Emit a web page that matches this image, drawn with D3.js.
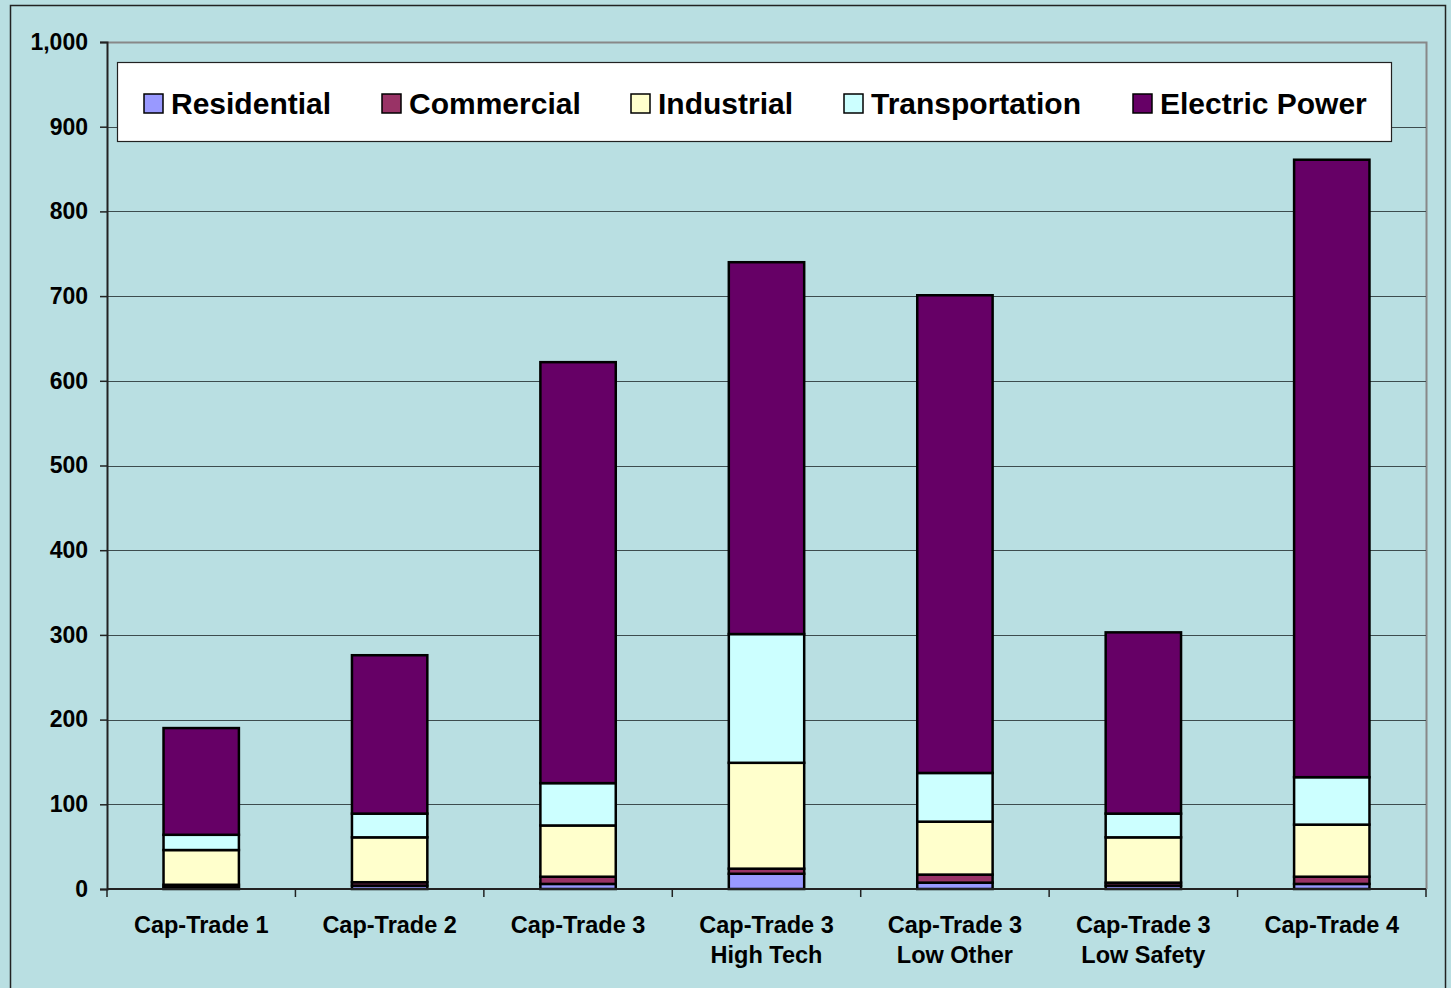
<!DOCTYPE html>
<html><head><meta charset="utf-8">
<script src="https://cdn.jsdelivr.net/npm/d3@7/dist/d3.min.js"></script>
<style>
html,body{margin:0;padding:0;background:#B9DFE2;}
svg{display:block;font-family:"Liberation Sans",Arial,sans-serif;font-weight:bold;}
</style></head>
<body><svg id="c" width="1451" height="988"></svg>
<script>
const categories = [["Cap-Trade 1"],["Cap-Trade 2"],["Cap-Trade 3"],["Cap-Trade 3","High Tech"],["Cap-Trade 3","Low Other"],["Cap-Trade 3","Low Safety"],["Cap-Trade 4"]];
const seriesNames = ["Residential","Commercial","Industrial","Transportation","Electric Power"];
const seriesColors = ["#9999FF","#993366","#FFFFCC","#CCFFFF","#660066"];
const residential    = [2, 4, 6, 18, 7.5, 4, 6];
const commercial     = [3, 4, 8.5, 6, 9.5, 3.5, 8.5];
const industrial     = [41, 53, 60.5, 125, 62.5, 53.5, 61.5];
const transportation = [18, 28, 50, 152, 57.5, 28, 56];
const electricPower  = [126, 187, 497, 439, 564, 214, 729];
const yTicks = [0,100,200,300,400,500,600,700,800,900,1000];

const seriesData = [residential, commercial, industrial, transportation, electricPower];
const svg = d3.select("#c");
const L = 107, R = 1426, T = 42, B = 889;

svg.append("rect").attr("x",10.5).attr("y",5.5).attr("width",1435).attr("height",995)
  .attr("fill","#B9DFE2").attr("stroke","#222").attr("stroke-width",1.5);

const x = d3.scaleBand().domain(d3.range(categories.length)).range([L,R]).paddingInner(0.6).paddingOuter(0.3);
const xb = d3.scaleBand().domain(d3.range(categories.length)).range([L,R]);
const y = d3.scaleLinear().domain([0,1000]).range([B,T]);

svg.append("path").attr("d",`M${L},${T+0.5}H${R+0.5}V${B}`).attr("fill","none").attr("stroke","#888").attr("stroke-width",2);

svg.append("g").selectAll("line").data(yTicks.filter(d=>d>0 && d<1000)).join("line")
  .attr("x1",L).attr("x2",R).attr("y1",d=>Math.round(y(d))+0.5).attr("y2",d=>Math.round(y(d))+0.5)
  .attr("stroke","#3d4c4e").attr("stroke-width",1);

const rows = categories.map((c,i)=>{const o={i}; seriesNames.forEach((s,k)=>o[s]=seriesData[k][i]); return o;});
const stack = d3.stack().keys(seriesNames)(rows);
const g = svg.append("g");
stack.forEach((layer,k)=>{
  g.append("g").selectAll("rect").data(layer).join("rect")
    .attr("x",d=>x(d.data.i)).attr("width",x.bandwidth())
    .attr("y",d=>y(d[1])).attr("height",d=>y(d[0])-y(d[1]))
    .attr("fill",seriesColors[k]).attr("stroke","#000").attr("stroke-width",2.5);
});

const ya = svg.append("g").attr("transform",`translate(${L},0)`)
  .call(d3.axisLeft(y).tickValues(yTicks).tickFormat(d3.format(",")).tickSize(7).tickPadding(12));
ya.select(".domain").attr("stroke","#222").attr("stroke-width",2);
ya.selectAll(".tick line").attr("stroke","#222").attr("stroke-width",1.5);
ya.selectAll("text").attr("font-size",23).attr("font-weight","bold").attr("fill","#000")
  .attr("font-family","Liberation Sans, Arial, sans-serif");

const xa = svg.append("g").attr("transform",`translate(0,${B})`);
xa.append("line").attr("x1",L).attr("x2",R).attr("y1",0).attr("y2",0).attr("stroke","#222").attr("stroke-width",2);
xa.selectAll("line.t").data(d3.range(categories.length+1)).join("line").attr("class","t")
  .attr("x1",d=>d<categories.length?xb(d):R).attr("x2",d=>d<categories.length?xb(d):R)
  .attr("y1",0).attr("y2",8).attr("stroke","#222").attr("stroke-width",1.5);
categories.forEach((c,i)=>{
  const t = xa.append("text").attr("x",xb(i)+xb.bandwidth()/2).attr("y",44)
    .attr("text-anchor","middle").attr("font-size",23.5).attr("fill","#000");
  c.forEach((ln,j)=>t.append("tspan").attr("x",xb(i)+xb.bandwidth()/2).attr("dy",j?30:0).text(ln));
});

const lg = svg.append("g");
lg.append("rect").attr("x",117.5).attr("y",62.5).attr("width",1274).attr("height",79)
  .attr("fill","#fff").attr("stroke","#222").attr("stroke-width",1.2);
const legX = [144,382,631,844,1133];
seriesNames.forEach((s,k)=>{
  lg.append("rect").attr("x",legX[k]).attr("y",94).attr("width",19).attr("height",19)
    .attr("fill",seriesColors[k]).attr("stroke","#000").attr("stroke-width",1.5);
  lg.append("text").attr("x",legX[k]+27).attr("y",114).attr("font-size",30).attr("fill","#000").text(s);
});
</script></body></html>
